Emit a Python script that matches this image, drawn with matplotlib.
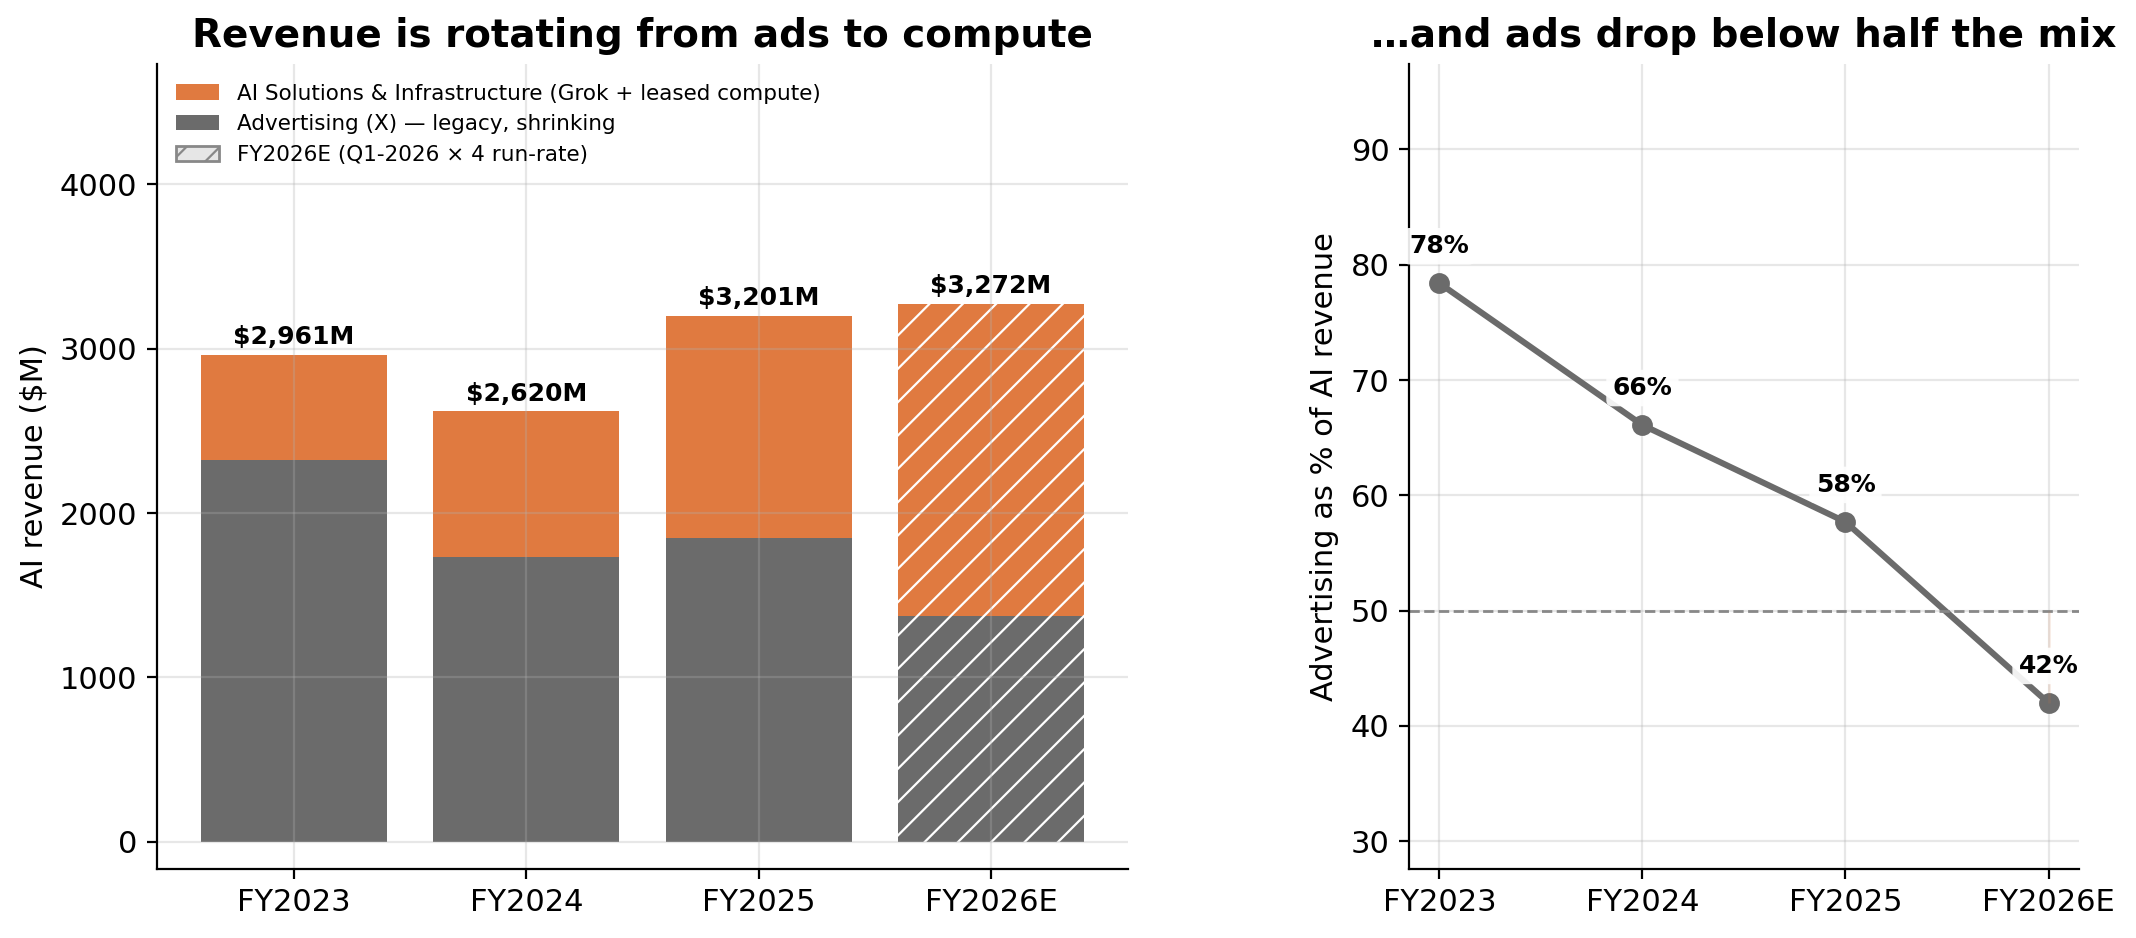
import matplotlib
matplotlib.use("Agg")
import matplotlib.pyplot as plt
from matplotlib.patches import Patch
import numpy as np

years = ["FY2023", "FY2024", "FY2025", "FY2026E"]
ads = [2320, 1731, 1847, 1375]
totals = [2961, 2620, 3201, 3272]
compute = [t - a for t, a in zip(totals, ads)]
ad_share = [78.4, 66.1, 57.7, 42.0]
share_labels = ["78%", "66%", "58%", "42%"]

ORANGE = "#E07A40"
GRAY = "#6B6B6B"

plt.rcParams["font.family"] = ["DejaVu Sans"]
plt.rcParams["hatch.linewidth"] = 0.8
fig = plt.figure(figsize=(10.68, 4.69), dpi=200)
ax1 = fig.add_axes([0.0735, 0.0736, 0.4546, 0.858])
ax2 = fig.add_axes([0.6596, 0.0736, 0.3137, 0.858])

x = np.arange(len(years))
for i in range(len(years)):
    est = years[i].endswith("E")
    kw = dict(hatch="//", edgecolor="white", linewidth=0) if est else dict(linewidth=0)
    ax1.bar(x[i], ads[i], 0.8, color=GRAY, **kw)
    ax1.bar(x[i], compute[i], 0.8, bottom=ads[i], color=ORANGE, **kw)
    ax1.annotate(f"${totals[i]:,}M", (x[i], totals[i]), xytext=(0, 2),
                 textcoords="offset points", ha="center", va="bottom",
                 fontsize=9, fontweight="bold")

ax1.set_xticks(x)
ax1.set_xticklabels(years, fontsize=11)
ax1.tick_params(axis="y", labelsize=11)
ax1.set_ylabel("AI revenue ($M)", fontsize=11)
ax1.set_ylim(-165, 4730)
ax1.set_title("Revenue is rotating from ads to compute", fontsize=14, fontweight="bold")
ax1.grid(True, color="#b0b0b0", alpha=0.3, linewidth=0.8)
for s in ["top", "right"]:
    ax1.spines[s].set_visible(False)

handles = [
    Patch(facecolor=ORANGE, label="AI Solutions & Infrastructure (Grok + leased compute)"),
    Patch(facecolor=GRAY, label="Advertising (X) \u2014 legacy, shrinking"),
    Patch(facecolor="#E6E6E6", edgecolor="#888888", hatch="//",
          label="FY2026E (Q1-2026 \u00d7 4 run-rate)"),
]
ax1.legend(handles=handles, loc="upper left", frameon=False, fontsize=7.75)

# right panel
ax2.plot(x, ad_share, color=GRAY, linewidth=2.2, marker="o", markersize=6.5)
ax2.axhline(50, color="#888888", linestyle="--", linewidth=1)
ax2.vlines(x[-1], ad_share[-1], 50, color=ORANGE, alpha=0.12, linewidth=1)
for i in range(len(years)):
    ax2.annotate(share_labels[i], (x[i], ad_share[i]), xytext=(0, 9),
                 textcoords="offset points", ha="center", va="bottom",
                 fontsize=9, fontweight="bold",
                 bbox=dict(boxstyle="round,pad=0.25", facecolor="white",
                           edgecolor="none", alpha=0.9))
ax2.set_xticks(x)
ax2.set_xticklabels(years, fontsize=11)
ax2.tick_params(axis="y", labelsize=11)
ax2.set_yticks([30, 40, 50, 60, 70, 80, 90])
ax2.set_ylim(27.6, 97.4)
ax2.set_ylabel("Advertising as % of AI revenue", fontsize=11)
ax2.set_title("\u2026and ads drop below half the mix", fontsize=14, fontweight="bold")
ax2.grid(True, color="#b0b0b0", alpha=0.3, linewidth=0.8)
for s in ["top", "right"]:
    ax2.spines[s].set_visible(False)

fig.savefig("out.png", dpi=200)
